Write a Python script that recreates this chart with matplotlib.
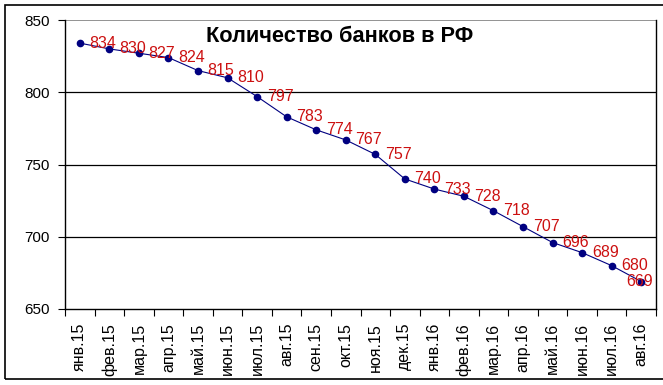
import numpy as np
import matplotlib.pyplot as plt
from matplotlib.patches import Rectangle

plt.rcParams['font.family'] = ['Liberation Sans', 'DejaVu Sans']

# month labels and number of banks
months = ['янв.15', 'фев.15', 'мар.15', 'апр.15', 'май.15', 'июн.15', 'июл.15',
          'авг.15', 'сен.15', 'окт.15', 'ноя.15', 'дек.15', 'янв.16', 'фев.16',
          'мар.16', 'апр.16', 'май.16', 'июн.16', 'июл.16', 'авг.16']
banks = [834, 830, 827, 824, 815, 810, 797, 783, 774, 767, 757, 740,
         733, 728, 718, 707, 696, 689, 680, 669]
y_ticks = [650, 700, 750, 800, 850]

fig = plt.figure(figsize=(6.63, 3.85), dpi=100)
ax = fig.add_axes([65/663, 1 - 309/385, (656 - 65)/663, (309 - 20)/385])

x = np.arange(len(banks))
ax.plot(x, banks, color='#000080', lw=0.8, marker='o', ms=4.5,
        mfc='#000080', mec='#000080', zorder=5)

for xi, v in zip(x, banks):
    if xi == len(banks) - 1:
        # last label would run off the plot, so it sits on its point
        off, ha = (-1, 'center')
    else:
        off, ha = (7, 'left')
    ax.annotate(str(v), (xi, v), xytext=(off, 0), textcoords='offset points',
                ha=ha, va='center', color='#CC1010', fontsize=11.5, zorder=6)

ax.set_xlim(-0.5, len(banks) - 0.5)
ax.set_ylim(650, 850)
ax.set_yticks(y_ticks)
ax.tick_params(axis='y', length=5, width=0.8, labelsize=11, pad=6)

# ticks between categories, labels at category centres
ax.set_xticks(np.arange(len(banks) + 1) - 0.5)
ax.set_xticklabels([])
ax.tick_params(axis='x', which='major', length=5, width=0.8)
ax.set_xticks(x, minor=True)
ax.set_xticklabels(months, minor=True, rotation=90, fontsize=11.5)
ax.tick_params(axis='x', which='minor', length=0, pad=10)

for yv in y_ticks[1:-1]:
    ax.axhline(yv, color='black', lw=0.9, zorder=1)
ax.axhline(850, color='#808080', lw=1.2, zorder=1)

for s in ['left', 'bottom', 'right']:
    ax.spines[s].set_color('black')
    ax.spines[s].set_linewidth(1.0)
ax.spines['top'].set_visible(False)

fig.text(340/663, 1 - 37/385, 'Количество банков в РФ', ha='center',
         va='center', fontsize=15.7, fontweight='bold')

# outer chart frame
fig.patches.append(Rectangle((5/663, 6/385), 1.0, 374/385, transform=fig.transFigure,
                             fill=False, ec='black', lw=1.2))

fig.savefig('out.png', dpi=100)
